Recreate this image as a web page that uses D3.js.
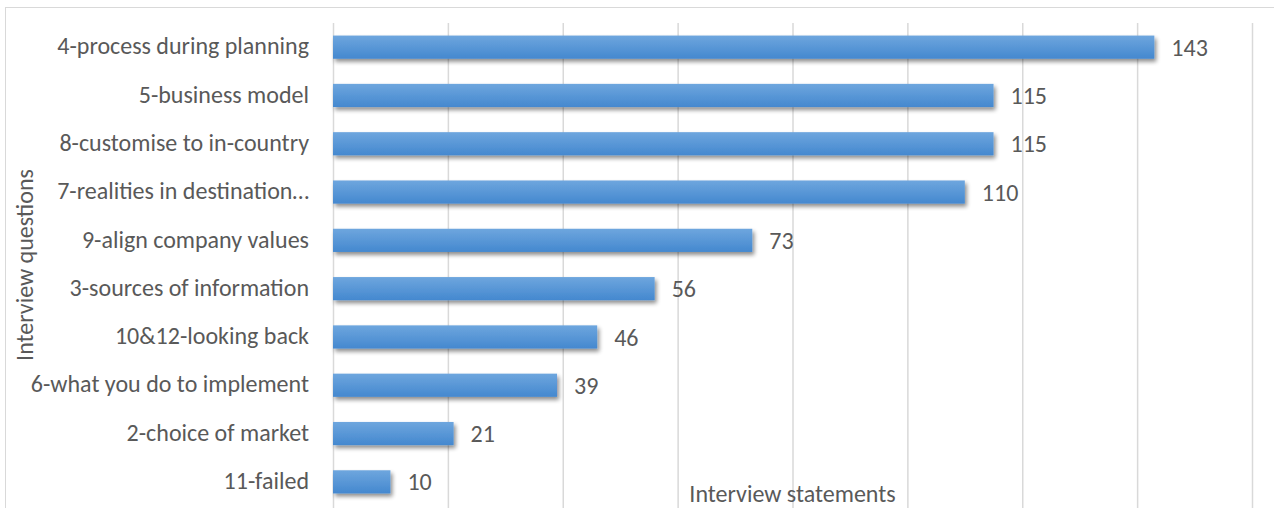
<!DOCTYPE html>
<html>
<head>
<meta charset="utf-8">
<script src="https://cdn.jsdelivr.net/npm/d3@7"></script>
<style>
  html, body { margin: 0; padding: 0; background: #fff; }
  svg { display: block; }
  text { font-family: Carlito, Lato, "Open Sans", sans-serif; fill: #595959; }
</style>
</head>
<body>
<svg id="chart" width="1274" height="508"></svg>
<script>
const categories = [
  "4-process during planning",
  "5-business model",
  "8-customise to in-country",
  "7-realities in destination…",
  "9-align company values",
  "3-sources of information",
  "10&12-looking back",
  "6-what you do to implement",
  "2-choice of market",
  "11-failed"
];
const statements = [143, 115, 115, 110, 73, 56, 46, 39, 21, 10];
const xTicks = [0, 20, 40, 60, 80, 100, 120, 140, 160];

const svg = d3.select("#chart");
const W = 1274, H = 508;
const FS = 24;

const plot = { left: 333, right: 1252, top: 23, bottom: 506 };

const x = d3.scaleLinear().domain([0, 160]).range([plot.left, plot.right]);
const y = d3.scaleBand().domain(categories).range([plot.top, plot.bottom]).paddingInner(0.52).paddingOuter(0.26);

// chart frame
svg.append("rect")
  .attr("x", 5.5).attr("y", 7.5)
  .attr("width", W + 10).attr("height", H + 10)
  .attr("fill", "#fff").attr("stroke", "#d9d9d9").attr("stroke-width", 1);

const defs = svg.append("defs");
const grad = defs.append("linearGradient").attr("id", "barFill")
  .attr("x1", 0).attr("y1", 0).attr("x2", 0).attr("y2", 1);
grad.append("stop").attr("offset", "0%").attr("stop-color", "#6ea6de");
grad.append("stop").attr("offset", "100%").attr("stop-color", "#4488cf");

const shadow = defs.append("filter").attr("id", "barShadow")
  .attr("x", "-5%").attr("y", "-30%").attr("width", "115%").attr("height", "190%");
shadow.append("feGaussianBlur").attr("in", "SourceAlpha").attr("stdDeviation", 2.2).attr("result", "blur");
shadow.append("feOffset").attr("in", "blur").attr("dx", 2).attr("dy", 3).attr("result", "off");
shadow.append("feComponentTransfer").attr("in", "off").attr("result", "shade")
  .append("feFuncA").attr("type", "linear").attr("slope", 0.45);
const merge = shadow.append("feMerge");
merge.append("feMergeNode").attr("in", "shade");
merge.append("feMergeNode").attr("in", "SourceGraphic");

// vertical gridlines
svg.append("g").selectAll("line")
  .data(xTicks)
  .join("line")
  .attr("x1", d => x(d) + 0.5).attr("x2", d => x(d) + 0.5)
  .attr("y1", plot.top).attr("y2", H)
  .attr("stroke", "#d9d9d9").attr("stroke-width", 1.5);

// category axis
const yAxis = d3.axisLeft(y).tickSize(0).tickPadding(24);
const yg = svg.append("g").attr("transform", `translate(${plot.left},0)`).call(yAxis);
yg.select(".domain").remove();
yg.selectAll("text")
  .attr("font-size", FS)
  .attr("font-family", "Carlito, Lato, 'Open Sans', sans-serif")
  .attr("fill", "#595959")
  .attr("dy", "0.3em");

// bars
svg.append("g").selectAll("rect")
  .data(statements)
  .join("rect")
  .attr("x", x(0))
  .attr("y", (d, i) => y(categories[i]))
  .attr("width", d => x(d) - x(0))
  .attr("height", y.bandwidth())
  .attr("fill", "url(#barFill)")
  .attr("filter", "url(#barShadow)");

// value labels
svg.append("g").selectAll("text")
  .data(statements)
  .join("text")
  .attr("x", d => x(d) + 17)
  .attr("y", (d, i) => y(categories[i]) + y.bandwidth() / 2)
  .attr("dy", "0.36em")
  .attr("font-size", FS)
  .text(d => d);

// axis titles
svg.append("text")
  .attr("x", x(80))
  .attr("y", 502)
  .attr("text-anchor", "middle")
  .attr("font-size", FS)
  .text("Interview statements");

svg.append("text")
  .attr("transform", `translate(33,265) rotate(-90)`)
  .attr("text-anchor", "middle")
  .attr("font-size", FS)
  .text("Interview questions");
</script>
</body>
</html>
